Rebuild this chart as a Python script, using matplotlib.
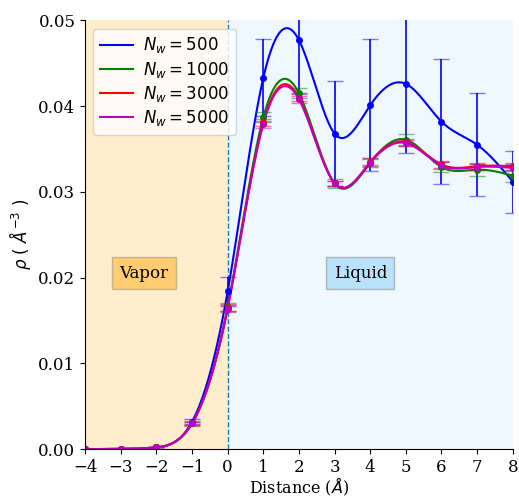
import numpy as np
import matplotlib
matplotlib.use("Agg")
import matplotlib.pyplot as plt

plt.rcParams['font.family'] = 'DejaVu Serif'
plt.rcParams['mathtext.fontset'] = 'dejavusans'

# density profiles across the interface, one per system size
distance = [-4, -3, -2, -1, 0, 1, 2, 3, 4, 5, 6, 7, 8]
n_water = [500, 1000, 3000, 5000]
colors = ['blue', 'green', 'red', 'm']

rho = {
    500:  [0.0, 0.00003, 0.0002, 0.0032, 0.0184, 0.0433, 0.0477, 0.0368, 0.0401, 0.0426, 0.0382, 0.0355, 0.0312],
    1000: [0.0, 0.00003, 0.0002, 0.0030, 0.0166, 0.0387, 0.0415, 0.0310, 0.0334, 0.0361, 0.0329, 0.0326, 0.0319],
    3000: [0.0, 0.00003, 0.0002, 0.0030, 0.0165, 0.0381, 0.0410, 0.0310, 0.0335, 0.0358, 0.0332, 0.0330, 0.0330],
    5000: [0.0, 0.00003, 0.0002, 0.0030, 0.0164, 0.0379, 0.0408, 0.0310, 0.0334, 0.0357, 0.0331, 0.0329, 0.0328],
}
rho_err = {
    500:  [0.0, 0.0, 0.0, 0.0003, 0.0017, 0.0045, 0.0062, 0.0061, 0.0077, 0.0081, 0.0073, 0.0060, 0.0036],
    1000: [0.0, 0.0, 0.0, 0.0003, 0.0005, 0.0006, 0.0006, 0.0005, 0.0005, 0.0006, 0.0006, 0.0007, 0.0007],
    3000: [0.0, 0.0, 0.0, 0.0002, 0.0004, 0.0004, 0.0004, 0.0003, 0.0004, 0.0004, 0.0004, 0.0004, 0.0004],
    5000: [0.0, 0.0, 0.0, 0.0002, 0.0004, 0.0004, 0.0004, 0.0003, 0.0004, 0.0004, 0.0004, 0.0004, 0.0004],
}


def natural_spline(x, y, xs):
    x = np.asarray(x, float)
    y = np.asarray(y, float)
    n = len(x)
    h = np.diff(x)
    A = np.zeros((n, n))
    b = np.zeros(n)
    A[0, 0] = A[-1, -1] = 1.0
    for i in range(1, n - 1):
        A[i, i - 1] = h[i - 1]
        A[i, i] = 2 * (h[i - 1] + h[i])
        A[i, i + 1] = h[i]
        b[i] = 6 * ((y[i + 1] - y[i]) / h[i] - (y[i] - y[i - 1]) / h[i - 1])
    M = np.linalg.solve(A, b)
    k = np.clip(np.searchsorted(x, xs) - 1, 0, n - 2)
    t0 = xs - x[k]
    t1 = x[k + 1] - xs
    hk = h[k]
    return (M[k] * t1**3 / (6 * hk) + M[k + 1] * t0**3 / (6 * hk)
            + (y[k] / hk - M[k] * hk / 6) * t1
            + (y[k + 1] / hk - M[k + 1] * hk / 6) * t0)


fig, ax = plt.subplots(figsize=(5.19, 4.98), dpi=100)
fig.subplots_adjust(left=0.164, right=0.988, top=0.959, bottom=0.098)

ax.axvspan(-4, 0, color='orange', alpha=0.2, lw=0)
ax.axvspan(0, 8, color='aliceblue', lw=0)
ax.axvline(0, color='tab:blue', ls='--', lw=1)

xs = np.linspace(-4, 8, 600)
for n, c in zip(n_water, colors):
    ys = natural_spline(distance, rho[n], xs)
    ax.plot(xs, ys, color=c, lw=1.5, label=r'$N_w = %d$' % n)
    _, caps, bars = ax.errorbar(distance, rho[n], yerr=rho_err[n], fmt='o', ms=4,
                                color=c, capsize=6, elinewidth=1.2)
    for cap in caps:
        cap.set_alpha(0.5)
    for bar in bars:
        bar.set_alpha(1.0 if n == 500 else 0.4)

ax.text(-2.35, 0.0205, 'Vapor', ha='center', va='center', fontsize=12,
        bbox=dict(boxstyle='square,pad=0.45', fc='orange', alpha=0.45, ec='gray'))
ax.text(3.72, 0.0205, 'Liquid', ha='center', va='center', fontsize=12,
        bbox=dict(boxstyle='square,pad=0.45', fc='lightskyblue', alpha=0.5, ec='gray'))

ax.set_xlim(-4, 8)
ax.set_ylim(0, 0.05)
ax.set_xticks(range(-4, 9))
ax.set_yticks(np.arange(0, 0.051, 0.01))
ax.set_yticklabels(['%.2f' % v for v in np.arange(0, 0.051, 0.01)])
ax.tick_params(labelsize=12)
ax.spines['top'].set_visible(False)
ax.spines['right'].set_visible(False)
ax.set_xlabel(r'Distance ($\AA$)', fontsize=11.5, labelpad=0)
ax.set_ylabel(r'$\rho\ (\ \AA^{-3}\ )$', fontsize=12)
ax.legend(loc='upper left', fontsize=12, handlelength=2.0, labelspacing=0.25,
          handletextpad=0.6)

fig.savefig('out.png', dpi=100)
